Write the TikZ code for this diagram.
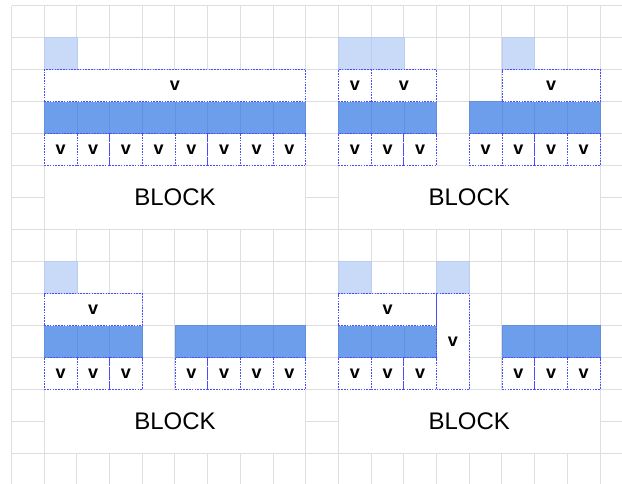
\documentclass[tikz,border=0pt]{standalone}
\usepackage{fontspec}
\setmainfont{Liberation Sans}
\definecolor{gridgray}{HTML}{DEDEDE}
\definecolor{cellblue}{HTML}{6D9EEB}
\definecolor{celledge}{HTML}{6490DD}
\definecolor{lightblue}{HTML}{C9DAF8}
\definecolor{lightedge}{HTML}{BACDF0}
\definecolor{dashblue}{HTML}{4C4CFF}

\tikzset{
  gridline/.style={draw=gridgray, line width=1pt},
  cellbase/.style={anchor=north west, inner sep=0pt, outer sep=0pt},
  vbox/.style={cellbase, fill=white, draw=dashblue, line width=0.8pt,
    dash pattern=on 1.6pt off 1.2pt, font=\fontsize{18}{18}\selectfont\bfseries},
  bluecell/.style={cellbase, fill=cellblue, draw=celledge, line width=0.6pt},
  lightcell/.style={cellbase, fill=lightblue, draw=lightedge, line width=0.5pt},
  blockbox/.style={cellbase, fill=white, draw=gridgray, line width=1pt,
    font=\fontsize{24}{24}\selectfont},
}

% a cell of the sheet: style, name, top-left corner (col,row), width, height, text
\newcommand\gcell[6]{%
  \node[#1, minimum width=#4*32.7pt, minimum height=#5*32pt] (#2) at #3 {#6};}

\begin{document}
\begin{tikzpicture}[x=32.7pt, y=-32pt]
\useasboundingbox (-0.3517,-0.178) rectangle (18.670,14.947);

% sheet grid
\foreach \i in {0,...,18} \draw[gridline] (\i,0) -- (\i,14.95);
\foreach \j in {0,...,14} \draw[gridline] (0,\j) -- (18.7,\j);

% ---- top left: one wide value over eight cells
\gcell{blockbox}{tl-block}{(1,5)}{8}{2}{BLOCK}
\gcell{lightcell}{tl-l1}{(1,1)}{1}{1}{}
\foreach \c in {1,...,8} {\gcell{bluecell}{tl-c\c}{(\c,3)}{1}{1}{}}
\gcell{vbox}{tl-top}{(1,2)}{8}{1}{v}
\foreach \c in {1,...,8} {\gcell{vbox}{tl-v\c}{(\c,4)}{1}{1}{v}}

% ---- top right: split into two runs
\gcell{blockbox}{tr-block}{(10,5)}{8}{2}{BLOCK}
\gcell{lightcell}{tr-l1}{(10,1)}{1}{1}{}
\gcell{lightcell}{tr-l2}{(11,1)}{1}{1}{}
\gcell{lightcell}{tr-l3}{(15,1)}{1}{1}{}
\foreach \c in {10,11,12,14,15,16,17} {\gcell{bluecell}{tr-c\c}{(\c,3)}{1}{1}{}}
\gcell{vbox}{tr-top1}{(10,2)}{1}{1}{v}
\gcell{vbox}{tr-top2}{(11,2)}{2}{1}{v}
\gcell{vbox}{tr-top3}{(15,2)}{3}{1}{v}
\foreach \c in {10,11,12,14,15,16,17} {\gcell{vbox}{tr-v\c}{(\c,4)}{1}{1}{v}}

% ---- bottom left
\gcell{blockbox}{bl-block}{(1,12)}{8}{2}{BLOCK}
\gcell{lightcell}{bl-l1}{(1,8)}{1}{1}{}
\foreach \c in {1,2,3,5,6,7,8} {\gcell{bluecell}{bl-c\c}{(\c,10)}{1}{1}{}}
\gcell{vbox}{bl-top}{(1,9)}{3}{1}{v}
\foreach \c in {1,2,3,5,6,7,8} {\gcell{vbox}{bl-v\c}{(\c,11)}{1}{1}{v}}

% ---- bottom right
\gcell{blockbox}{br-block}{(10,12)}{8}{2}{BLOCK}
\gcell{lightcell}{br-l1}{(10,8)}{1}{1}{}
\gcell{lightcell}{br-l2}{(13,8)}{1}{1}{}
\foreach \c in {10,11,12,15,16,17} {\gcell{bluecell}{br-c\c}{(\c,10)}{1}{1}{}}
\gcell{vbox}{br-top}{(10,9)}{3}{1}{v}
\gcell{vbox}{br-tall}{(13,9)}{1}{3}{v}
\foreach \c in {10,11,12,15,16,17} {\gcell{vbox}{br-v\c}{(\c,11)}{1}{1}{v}}
\end{tikzpicture}
\end{document}
